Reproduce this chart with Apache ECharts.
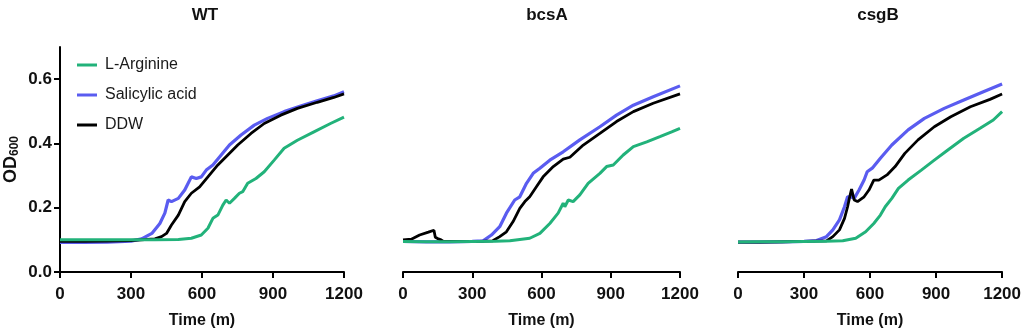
<!DOCTYPE html>
<html><head><meta charset="utf-8">
<script src="https://cdn.jsdelivr.net/npm/echarts@6/dist/echarts.min.js"></script>
<style>html,body{margin:0;padding:0;background:#fff}#c{width:1024px;height:334px}</style>
</head><body><div id="c"></div>
<script>
const panelTitles = ['WT', 'bcsA', 'csgB'];
const seriesNames = ['L-Arginine', 'Salicylic acid', 'DDW'];
const xTicks = [0, 300, 600, 900, 1200];
const yTicks = [0, 0.2, 0.4, 0.6];

// WT
const wtArgT = [0,100,200,300,400,500,555,597,625,646,667,688,702,716,737,758,772,793,828,863,905,947,1003,1073,1143,1200];
const wtArgV = [0.100,0.100,0.100,0.100,0.100,0.101,0.105,0.115,0.136,0.167,0.177,0.208,0.224,0.214,0.229,0.245,0.250,0.276,0.291,0.312,0.348,0.385,0.410,0.436,0.462,0.482];
const wtSalT = [0,100,200,300,345,388,422,443,457,471,500,527,555,576,597,618,646,681,716,765,821,877,947,1017,1087,1157,1200];
const wtSalV = [0.092,0.092,0.093,0.096,0.103,0.120,0.151,0.183,0.224,0.219,0.229,0.255,0.296,0.291,0.296,0.317,0.333,0.364,0.395,0.426,0.457,0.478,0.499,0.516,0.533,0.548,0.561];
const wtDdwT = [0,100,200,300,401,429,450,471,500,527,555,590,625,667,709,751,807,863,933,1003,1087,1157,1200];
const wtDdwV = [0.095,0.095,0.096,0.098,0.103,0.110,0.120,0.146,0.177,0.219,0.245,0.265,0.296,0.333,0.364,0.395,0.431,0.462,0.488,0.509,0.528,0.543,0.554];

// bcsA
const bcsArgT = [0,100,200,300,400,463,549,593,636,672,694,701,716,737,766,802,853,882,911,954,998,1056,1113,1164,1200];
const bcsArgV = [0.095,0.094,0.094,0.095,0.096,0.097,0.105,0.120,0.151,0.183,0.214,0.203,0.224,0.219,0.240,0.276,0.307,0.328,0.333,0.364,0.390,0.405,0.421,0.436,0.447];
const bcsSalT = [0,100,200,300,347,383,419,448,484,506,535,564,593,636,694,766,853,925,998,1084,1200];
const bcsSalV = [0.095,0.094,0.094,0.095,0.097,0.115,0.141,0.183,0.224,0.234,0.276,0.307,0.323,0.348,0.374,0.411,0.452,0.488,0.519,0.545,0.579];
const bcsDdwT = [0,36,72,110,134,140,150,165,175,250,330,389,419,448,477,506,528,549,578,607,651,694,723,781,853,925,998,1084,1200];
const bcsDdwV = [0.100,0.102,0.115,0.124,0.130,0.108,0.104,0.100,0.095,0.095,0.095,0.097,0.110,0.125,0.157,0.198,0.219,0.234,0.265,0.296,0.328,0.351,0.357,0.395,0.431,0.468,0.499,0.525,0.554];

// csgB
const csgArgT = [0,100,200,300,400,476,535,580,617,647,669,699,729,773,833,892,952,1026,1100,1160,1200];
const csgArgV = [0.093,0.094,0.094,0.095,0.096,0.097,0.105,0.125,0.151,0.177,0.203,0.229,0.260,0.286,0.317,0.348,0.379,0.416,0.447,0.473,0.499];
const csgSalT = [0,100,200,300,357,402,431,461,484,498,513,528,550,573,587,610,647,699,773,847,937,1026,1115,1200];
const csgSalV = [0.093,0.093,0.094,0.095,0.098,0.110,0.131,0.162,0.203,0.234,0.234,0.229,0.255,0.286,0.312,0.323,0.354,0.395,0.442,0.478,0.509,0.535,0.561,0.585];
const csgDdwT = [0,100,200,300,402,431,461,484,498,506,516,528,543,573,595,617,640,677,714,758,818,892,967,1056,1145,1200];
const csgDdwV = [0.093,0.093,0.094,0.095,0.097,0.110,0.131,0.167,0.203,0.229,0.258,0.224,0.219,0.234,0.255,0.286,0.286,0.302,0.328,0.369,0.411,0.452,0.483,0.514,0.537,0.554];

const panels = [
  [[wtArgT, wtArgV], [wtSalT, wtSalV], [wtDdwT, wtDdwV]],
  [[bcsArgT, bcsArgV], [bcsSalT, bcsSalV], [bcsDdwT, bcsDdwV]],
  [[csgArgT, csgArgV], [csgSalT, csgSalV], [csgDdwT, csgDdwV]]
];

const colors = ['#22b27a', '#5a5cf0', '#000000'];
const widths = [3, 3.2, 2.8];
const BOLD = "'Liberation Sans Narrow', 'Liberation Sans', Arial, sans-serif";
const REG = "'Liberation Sans', Arial, sans-serif";
const grids = [
  {left: 58, width: 286, top: 47, height: 225},
  {left: 403, width: 277, top: 47, height: 225},
  {left: 738, width: 269, top: 47, height: 225}
];
const titleCenters = [200, 542, 873];

const option = {
  animation: false,
  textStyle: {fontFamily: REG},
  title: panelTitles.map((t, i) => ({
    text: t, left: titleCenters[i], top: 2, textAlign: 'center',
    textStyle: {fontSize: 17, fontWeight: 'bold', color: '#111', fontFamily: REG}
  })),
  legend: {
    orient: 'vertical', left: 72, top: 51, itemWidth: 20, itemHeight: 3, itemGap: 12,
    icon: 'rect',
    data: seriesNames.map((n, i) => ({name: n, itemStyle: {color: colors[i]}})),
    textStyle: {fontSize: 16, color: '#1a1a1a', fontFamily: REG, padding: [0, 0, 0, 3], lineHeight: 18}
  },
  grid: grids,
  xAxis: grids.map((g, i) => ({
    type: 'value', gridIndex: i, min: 0, max: 1200, interval: 300,
    name: 'Time (m)', nameLocation: 'middle', nameGap: 41,
    nameTextStyle: {fontSize: 16, fontWeight: 'bold', color: '#111', fontFamily: BOLD},
    axisLine: {show: true, onZero: false, lineStyle: {color: '#000', width: 2}},
    axisTick: {show: true, inside: false, length: 6, lineStyle: {color: '#000', width: 2}},
    axisLabel: {margin: 14, fontSize: 17, fontWeight: 'bold', color: '#111', fontFamily: BOLD,
      formatter: v => String(v)},
    splitLine: {show: false}
  })),
  yAxis: grids.map((g, i) => ({
    type: 'value', gridIndex: i, min: 0, max: 0.7, interval: 0.1,
    show: i === 0,
    name: i === 0 ? '{a|OD}{b|600}' : '', nameLocation: 'middle', nameGap: 38, nameRotate: 90,
    nameTextStyle: {rich: {
      a: {fontSize: 18, fontWeight: 'bold', color: '#111', fontFamily: BOLD, lineHeight: 22},
      b: {fontSize: 12, fontWeight: 'bold', color: '#111', fontFamily: BOLD, padding: [8, 0, 0, 0], lineHeight: 22}
    }},
    axisLine: {show: true, onZero: false, lineStyle: {color: '#000', width: 2}},
    axisTick: {show: true, length: 6, lineStyle: {color: '#000', width: 2}, customValues: yTicks},
    axisLabel: {margin: 8, fontSize: 17, fontWeight: 'bold', color: '#111', fontFamily: BOLD,
      customValues: yTicks, formatter: v => v.toFixed(1)},
    splitLine: {show: false}
  })),
  series: []
};

const drawOrder = [1, 2, 0];
panels.forEach((p, gi) => {
  drawOrder.forEach((si, k) => {
    const [ts, vs] = p[si];
    option.series.push({
      type: 'line', name: seriesNames[si], xAxisIndex: gi, yAxisIndex: gi,
      data: ts.map((t, j) => [t, vs[j]]),
      showSymbol: false, symbol: 'none', z: 2 + k,
      lineStyle: {color: colors[si], width: widths[si]},
      itemStyle: {color: colors[si]}
    });
  });
});

const chart = echarts.init(document.getElementById('c'), null, {renderer: 'canvas'});
chart.setOption(option);
</script></body></html>
